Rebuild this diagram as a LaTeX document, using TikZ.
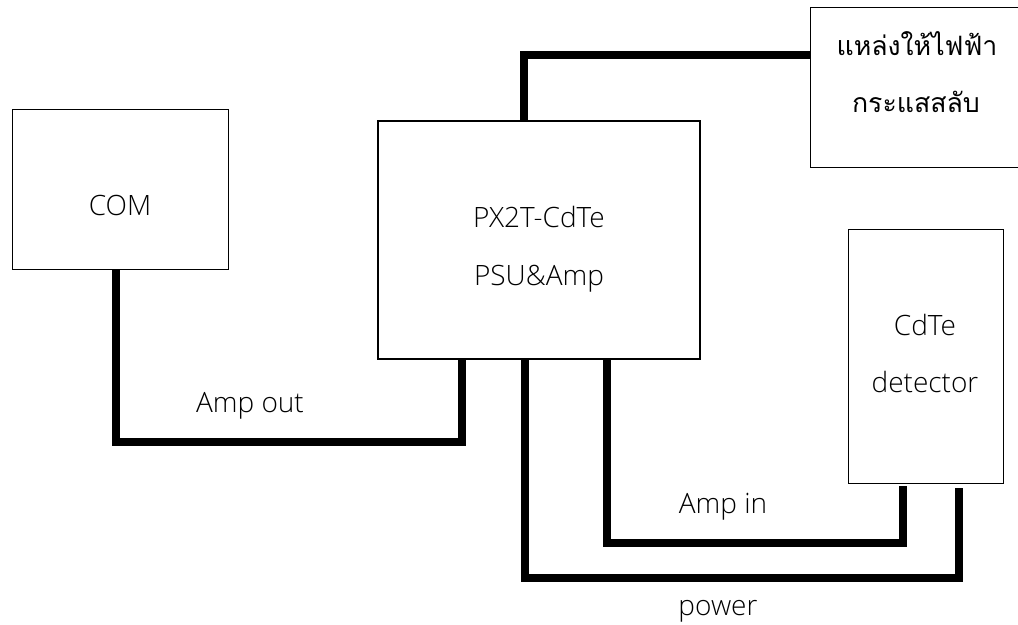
\documentclass[tikz,border=0pt]{standalone}
\usepackage{fontspec}
\newfontfamily\thaifont[Script=Thai]{Loma}
\setmainfont{Open Sans}
\newfontfamily\lightfont{Open Sans Light}
\tikzset{
  unitbox/.style={draw, line width=0.75pt, inner sep=0pt},
  cable/.style={line width=6pt, line join=miter},
  lbl/.style={inner sep=0pt, anchor=base, font=\lightfont\fontsize{21}{25}\selectfont},
  thailbl/.style={inner sep=0pt, anchor=base, font=\thaifont\mdseries\fontsize{20}{24}\selectfont},
}

\begin{document}
\begin{tikzpicture}[x=0.75pt, y=-0.75pt]
    \useasboundingbox (0,0) rectangle (1018,625);
    \clip (0,0) rectangle (1018,625);

    \node[unitbox, minimum width=162pt, minimum height=120pt] (com) at (120,189) {};
    \node[unitbox, line width=1.9pt, minimum width=241.5pt, minimum height=178.5pt] (psu) at (539,240) {};
    \node[unitbox, minimum width=165pt, minimum height=120pt] (mains) at (920,87) {};
    \node[unitbox, minimum width=116.25pt, minimum height=190.5pt] (det) at (925.5,356) {};

    \node[lbl] (comlbl) at (120,215) {COM};
    \node[lbl] (psulbla) at (539,227) {PX2T-CdTe};
    \node[lbl] (psulblb) at (539,285) {PSU\&Amp};
    \node[thailbl] (mainslbla) at (917,55) {แหล่งให้ไฟฟ้า};
    \node[thailbl] (mainslblb) at (916,112) {กระแสสลับ};
    \node[lbl] (detlbla) at (925,335) {CdTe};
    \node[lbl] (detlblb) at (925,392) {detector};

    \coordinate (comtap) at (116,269);
    \coordinate (outtap) at (462,359);
    \coordinate (pwrtap) at (525,359);
    \coordinate (intap) at (607,359);
    \coordinate (actap) at (524,121);
    \coordinate (acin) at (810,55);
    \coordinate (detin) at (903,486);
    \coordinate (detpwr) at (959,488);

    \draw[cable] (comtap) -- ++(0,173) -| (outtap);
    \draw[cable] (actap) |- (acin);
    \draw[cable] (intap) -- ++(0,184) -| (detin);
    \draw[cable] (pwrtap) -- ++(0,219) -| (detpwr);

    \node[lbl] (outlbl) at (250,412) {Amp out};
    \node[lbl] (inlbl) at (723,513) {Amp in};
    \node[lbl] (pwrlbl) at (718,615) {power};
\end{tikzpicture}
\end{document}
